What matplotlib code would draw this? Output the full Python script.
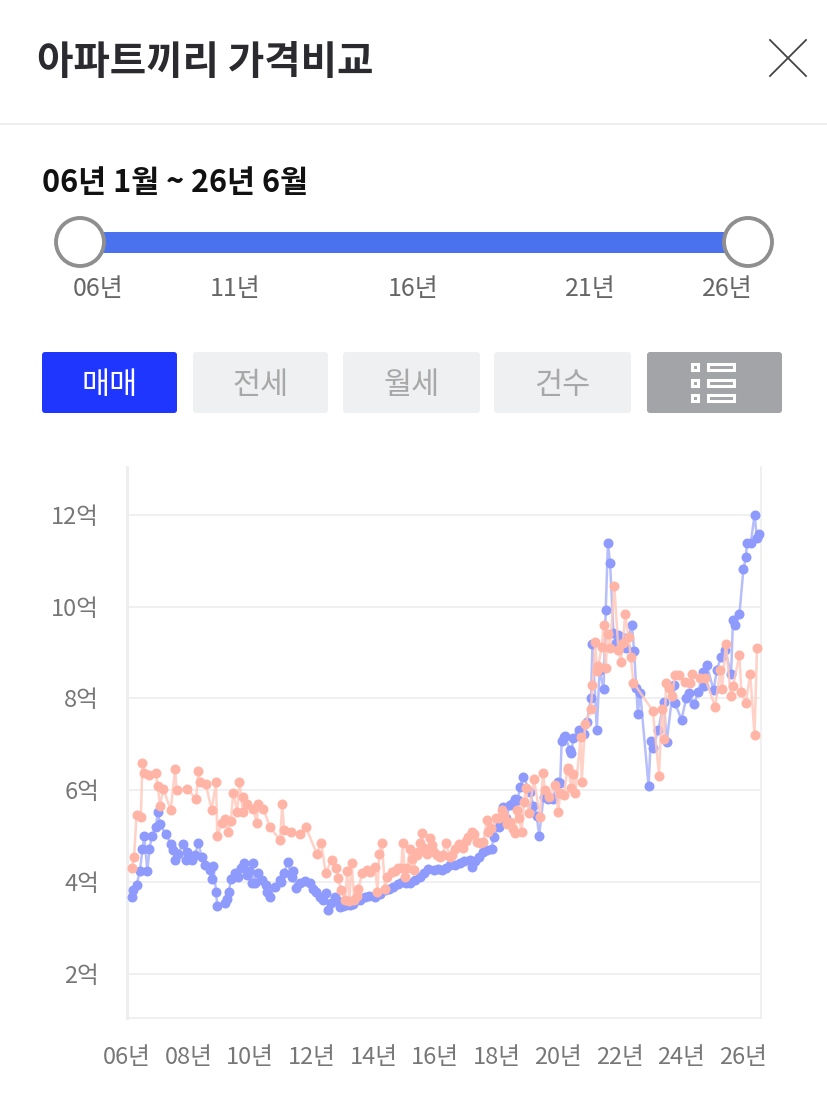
import numpy as np
import matplotlib
matplotlib.use("Agg")
import matplotlib.pyplot as plt
from matplotlib.patches import FancyBboxPatch, Circle, Rectangle

plt.rcParams['font.family'] = ['Noto Sans CJK KR', 'DejaVu Sans']

# ---------- data (year since 2000, price in 억) ----------
blue_year = [6.15,6.21,6.31,6.42,6.50,6.56,6.66,6.73,6.80,6.93,7.00,7.07,7.43,7.50,7.56,7.65,7.83,7.92,7.96,8.10,
             8.21,8.32,8.42,8.53,8.69,8.75,8.80,8.89,8.93,9.18,9.24,9.31,9.37,9.51,9.61,9.80,9.89,10.05,10.08,10.16,
             10.26,10.51,10.53,10.64,10.81,10.97,11.10,11.21,11.35,11.40,11.48,11.78,11.94,12.05,12.27,12.37,12.46,12.54,12.75,12.92,
             13.24,13.40,13.73,14.05,14.38,14.65,14.92,15.19,15.51,15.78,16.22,16.49,16.81,17.14,17.19,17.41,17.57,17.84,17.90,18.06,
             18.22,18.44,18.60,18.76,18.87,19.08,19.19,19.30,19.38,19.52,19.68,19.82,20.00,20.06,20.11,20.19,20.22,20.38,20.42,20.49,
             20.66,20.84,20.93,21.06,21.11,21.25,21.34,21.47,21.54,21.61,21.68,21.79,21.95,22.06,22.19,22.39,22.46,22.53,22.58,22.66,
             22.93,23.00,23.07,23.25,23.42,23.52,23.74,23.79,24.00,24.15,24.23,24.41,24.55,24.69,24.74,24.82,25.04,25.15,25.28,25.42,
             25.61,25.67,25.74,25.88,26.01,26.09,26.12,26.25,26.37,26.45,26.52,
             # denser stretch of the flat years
             12.15,12.62,12.84,13.00,13.10,13.32,13.55,13.85,14.20,14.50,14.80,15.05,15.35,15.65,15.95,16.08,16.35,16.65,16.95,17.30,
             17.70,18.12,18.30,18.52,18.68,7.25,9.70,9.95,10.38,11.00,11.62,21.88,22.00]
blue_price = [3.68,3.83,3.93,4.25,4.71,5.00,4.25,4.71,5.00,5.19,5.52,5.26,4.83,4.70,4.48,4.62,4.82,4.48,4.66,4.49,
              4.59,4.86,4.55,4.37,4.26,4.06,4.36,3.79,3.48,3.55,3.64,3.79,4.07,4.19,4.12,4.41,4.15,3.97,4.41,3.97,
              4.19,3.93,3.79,3.68,3.90,4.04,4.20,4.43,4.12,4.25,3.88,4.02,3.97,3.86,3.68,3.61,3.77,3.40,3.68,3.46,
              3.50,3.61,3.68,3.68,3.83,3.90,4.00,3.97,4.12,4.28,4.26,4.37,4.41,4.48,4.33,4.55,4.66,4.72,4.99,5.20,
              5.64,5.68,5.82,6.08,6.29,5.97,5.66,5.44,5.01,5.86,5.82,5.82,6.19,6.16,7.08,7.15,7.18,6.88,6.82,7.13,
              7.31,7.22,7.49,8.00,9.19,7.31,8.62,8.20,9.93,11.39,10.96,9.42,9.38,9.34,9.09,9.60,9.04,8.22,7.67,8.12,
              6.09,7.08,6.93,7.31,7.93,7.06,8.29,7.89,7.54,8.00,8.12,7.88,8.15,8.58,8.26,8.73,8.18,8.62,8.91,9.05,
              8.53,9.71,9.60,9.84,10.82,11.07,11.38,11.39,12.00,11.49,11.57,
              3.78,3.55,3.58,3.48,3.50,3.52,3.62,3.70,3.75,3.86,3.96,3.99,4.05,4.20,4.27,4.28,4.30,4.38,4.46,4.46,
              4.70,5.30,5.40,5.72,5.78,5.05,4.30,4.25,4.05,4.00,3.98,9.20,9.30]

pink_year = [6.15,6.23,6.31,6.45,6.50,6.56,6.72,6.93,7.00,7.07,7.18,7.42,7.56,7.61,7.96,8.24,8.32,8.37,8.55,8.75,
             8.89,8.93,9.07,9.18,9.29,9.37,9.45,9.58,9.65,9.76,9.78,9.89,10.10,10.21,10.26,10.43,10.64,10.97,11.04,11.10,
             11.32,11.62,11.81,12.16,12.30,12.45,12.65,12.78,12.86,12.95,13.08,13.15,13.29,13.38,13.51,13.64,13.78,14.05,14.13,14.19,
             14.27,14.38,14.59,14.81,14.95,15.03,15.19,15.30,15.41,15.51,15.59,15.73,15.84,15.95,16.16,16.36,16.47,16.65,16.79,17.08,
             17.19,17.35,17.57,17.68,17.81,17.98,18.17,18.33,18.44,18.60,18.65,18.81,18.89,18.95,19.21,19.41,19.50,19.57,19.90,20.00,
             20.06,20.17,20.30,20.33,20.49,20.55,20.73,20.76,20.87,21.06,21.11,21.20,21.30,21.41,21.47,21.54,21.68,21.82,21.95,22.03,
             22.17,22.28,22.44,23.07,23.27,23.36,23.44,23.50,23.58,23.69,23.79,23.93,24.12,24.28,24.33,24.60,24.77,25.09,25.26,25.31,
             25.44,25.60,25.67,25.88,25.94,26.09,26.23,26.37,26.45,
             # denser stretch of the middle years
             13.22,13.45,13.90,14.45,14.70,14.90,15.10,15.25,15.45,15.65,15.90,16.05,16.25,16.55,16.90,17.00,17.27,17.45,17.72,18.08,
             18.25,18.52,18.72,19.05,19.70,20.42,21.25,21.60,22.10,22.35]
pink_price = [4.30,4.54,5.47,5.42,6.60,6.38,6.33,6.37,6.09,5.66,6.03,5.57,6.46,6.00,6.03,5.81,6.42,6.19,6.14,5.58,
              6.17,5.00,5.28,5.37,5.10,5.34,5.95,5.53,6.17,5.53,5.86,5.71,5.60,5.28,5.70,5.60,5.19,4.92,5.70,5.13,
              5.08,5.05,5.19,4.62,4.86,4.20,4.48,4.30,4.08,3.83,3.61,4.25,4.41,3.61,3.86,4.20,4.26,4.33,3.79,4.62,
              4.86,3.86,4.23,4.30,4.86,4.12,4.73,4.26,4.59,4.86,5.06,4.62,4.95,4.66,4.55,4.86,4.55,4.73,4.83,4.99,
              5.10,4.88,4.88,5.35,5.17,5.39,5.57,5.26,5.31,5.06,5.57,5.10,5.75,6.04,6.24,5.42,6.37,6.00,6.11,5.52,
              5.93,5.90,6.45,6.48,6.35,5.93,7.17,6.17,7.44,7.77,8.29,9.22,8.71,9.13,9.60,8.66,9.09,10.45,9.05,8.80,
              9.83,9.34,8.34,7.73,6.32,7.77,7.12,8.34,8.22,8.06,8.52,8.52,8.36,8.34,8.53,8.44,8.44,7.82,8.62,8.20,
              9.19,8.05,8.26,8.95,8.15,7.91,8.53,7.20,9.09,
              3.58,3.70,4.22,4.10,4.25,4.30,4.30,4.50,4.65,4.75,4.80,4.60,4.60,4.60,4.75,4.90,5.05,4.85,5.10,5.40,
              5.45,5.15,5.40,5.50,5.85,6.05,8.60,9.40,9.20,8.90]

y_ticks = [2, 4, 6, 8, 10, 12]
y_labels = ['2억', '4억', '6억', '8억', '10억', '12억']
x_ticks = [6, 8, 10, 12, 14, 16, 18, 20, 22, 24, 26]
x_labels = ['06년', '08년', '10년', '12년', '14년', '16년', '18년', '20년', '22년', '24년', '26년']

title = '아파트끼리 가격비교'
range_text = '06년 1월 ~ 26년 6월'
slider_labels = ['06년', '11년', '16년', '21년', '26년']
tabs = ['매매', '전세', '월세', '건수']

# ---------- figure ----------
W, H = 827, 1096
fig = plt.figure(figsize=(W / 100, H / 100), dpi=100, facecolor='white')

ui = fig.add_axes([0, 0, 1, 1], zorder=2)
ui.set_xlim(0, W)
ui.set_ylim(H, 0)
ui.axis('off')
ui.patch.set_alpha(0)

ui.text(37, 62, title, fontsize=28.5, fontweight='bold', color='#2b2b2f', va='center', ha='left')
ui.plot([770, 806], [40, 76], color='#444444', lw=1.3)
ui.plot([770, 806], [76, 40], color='#444444', lw=1.3)
ui.plot([0, W], [124, 124], color='#ececec', lw=1.2)
ui.text(42, 183, range_text, fontsize=22, fontweight='bold', color='#111111', va='center', ha='left')

ui.add_patch(Rectangle((80, 232), 670, 21, fc='#4a72ee', ec='none'))
for cx in (80, 748):
    ui.add_patch(Circle((cx, 242), 24, fc='white', ec='#8f8f8f', lw=2.8, zorder=3))
for lx, lab in zip((98, 235, 413, 590, 727), slider_labels):
    ui.text(lx, 289, lab, fontsize=18, color='#666666', ha='center', va='center')

spans = [(42, 177), (193, 328), (343, 480), (494, 631)]
for i, ((x0, x1), lab) in enumerate(zip(spans, tabs)):
    fc = '#1f36ff' if i == 0 else '#eff0f2'
    tc = 'white' if i == 0 else '#a8a8a8'
    ui.add_patch(FancyBboxPatch((x0 + 3, 355), x1 - x0 - 6, 55, boxstyle='round,pad=3,rounding_size=3', fc=fc, ec='none'))
    ui.text((x0 + x1) / 2, 385, lab, fontsize=22, color=tc, ha='center', va='center',
            fontweight='medium' if i == 0 else 'normal')
ui.add_patch(FancyBboxPatch((650, 355), 129, 55, boxstyle='round,pad=3,rounding_size=3', fc='#a3a4a8', ec='none'))
for yy in (367, 383, 398):
    ui.add_patch(Rectangle((692, yy - 3), 6, 6, fc='#a3a4a8', ec='white', lw=2.2))
    ui.add_patch(Rectangle((708, yy - 3), 26, 6, fc='#a3a4a8', ec='white', lw=2.2))

# chart, spanning pixels x 127..761, y 467..1018
ax = fig.add_axes([127 / W, 1 - 1018 / H, (761 - 127) / W, (1018 - 467) / H], zorder=1)
ax.set_xlim(6.0, 26.58)
ax.set_ylim(1.04, 13.04)
ax.spines['top'].set_visible(False)
ax.spines['left'].set_color('#eeeeee')
ax.spines['left'].set_linewidth(2.2)
for s in ('right', 'bottom'):
    ax.spines[s].set_color('#eeeeee')
    ax.spines[s].set_linewidth(1.2)
ax.set_yticks(y_ticks, y_labels)
ax.set_xticks(x_ticks, x_labels)
ax.tick_params(axis='both', length=0, labelcolor='#777777', labelsize=17)
ax.tick_params(axis='y', pad=20)
ax.tick_params(axis='x', pad=20)
ax.grid(axis='y', color='#eeeeee', lw=1.2)
ax.set_axisbelow(True)

def series(years, prices, line, marker, z):
    order = np.argsort(years)
    xs = np.array(years)[order]
    ys = np.array(prices)[order]
    ax.plot(xs, ys, color=line, lw=1.8, alpha=0.85, zorder=z, clip_on=False)
    ax.plot(xs, ys, ls='none', marker='o', ms=7.2, mfc=marker, mec='none', zorder=z + 0.1, clip_on=False)

series(blue_year, blue_price, '#aab3fb', '#8e9afc', 3)
series(pink_year, pink_price, '#ffc9bd', '#ffb4a6', 4)

fig.savefig('out.png', dpi=100, facecolor='white')
